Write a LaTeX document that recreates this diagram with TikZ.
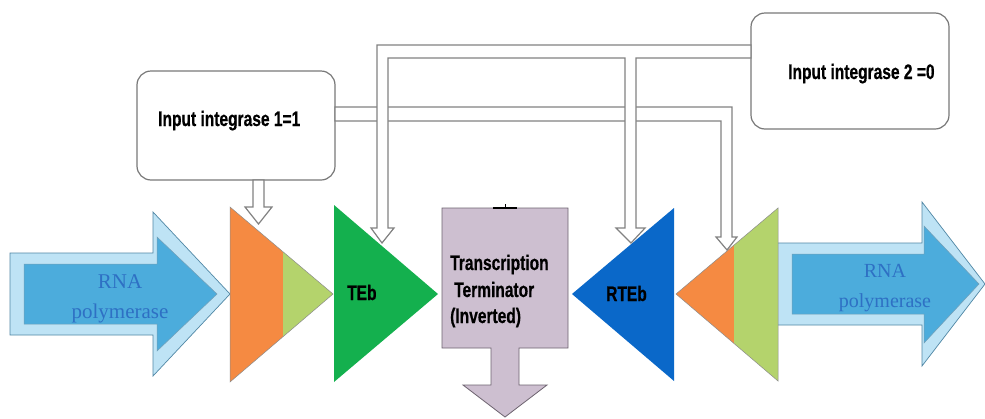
\documentclass[tikz,border=0pt]{standalone}
\usepackage{fontspec}
\setmainfont{Liberation Serif}
\newfontfamily\condfont[FakeStretch=0.74,FakeBold=0.6]{Liberation Sans}
\newfontfamily\rnafont{Liberation Serif}
\definecolor{outerblue}{RGB}{190,227,245}
\definecolor{innerblue}{RGB}{76,172,220}
\definecolor{arrowedge}{RGB}{80,135,165}
\definecolor{rnatext}{RGB}{46,112,196}
\definecolor{myorange}{RGB}{245,138,66}
\definecolor{mylgreen}{RGB}{180,211,108}
\definecolor{tebgreen}{RGB}{20,176,78}
\definecolor{rtebblue}{RGB}{10,104,201}
\definecolor{termfill}{RGB}{205,191,208}
\definecolor{termedge}{RGB}{110,100,112}
\definecolor{pipegray}{RGB}{130,130,130}
\definecolor{boxgray}{RGB}{120,120,120}
\tikzset{
  outerarrow/.style={fill=outerblue, draw=arrowedge, line width=0.7pt, line join=miter},
  innerarrow/.style={fill=innerblue, draw=arrowedge!80, line width=0.5pt},
  triedge/.style={draw=black!45, line width=0.5pt},
  termshape/.style={fill=termfill, draw=termedge, line width=0.8pt},
  inbox/.style={fill=white, draw=boxgray, line width=1.2pt, rounded corners=14pt},
  pipe/.style={fill=white, draw=pipegray, line width=1.2pt, line join=miter},
  lbl/.style={font=\condfont\bfseries\fontsize{21}{25}\selectfont, inner sep=0pt, text=black},
  rnalbl/.style={font=\rnafont\fontsize{21}{25}\selectfont, inner sep=0pt, text=rnatext}
}
\begin{document}
\begin{tikzpicture}[x=1pt,y=-1pt]
\useasboundingbox (0,0) rectangle (985,418);
\fill[white] (0,0) rectangle (985,418);

% ---------- left RNA polymerase arrow
\draw[outerarrow] (10,253) -- (153,253) -- (153,212) -- (230,294) -- (153,376) -- (153,335) -- (10,335) -- cycle;
\draw[innerarrow] (24,264) -- (157,264) -- (157,237) -- (217,294) -- (157,351) -- (157,324) -- (24,324) -- cycle;
\node[rnalbl, anchor=base] (rnaL1) at (120,288) {RNA};
\node[rnalbl, anchor=base] (rnaL2) at (120,318) {polymerase};

% ---------- right RNA polymerase arrow
\draw[outerarrow] (777,243) -- (922,243) -- (922,202) -- (985,284) -- (922,366) -- (922,325) -- (777,325) -- cycle;
\draw[innerarrow] (792,254) -- (924,254) -- (924,226) -- (979,284) -- (924,343) -- (924,314) -- (792,314) -- cycle;
\node[rnalbl, font=\rnafont\fontsize{20}{24}\selectfont, anchor=base] (rnaR1) at (885,277) {RNA};
\node[rnalbl, font=\rnafont\fontsize{20}{24}\selectfont, anchor=base] (rnaR2) at (885,307) {polymerase};

% ---------- left integrase site (orange / green)
\coordinate (a1) at (230,207); \coordinate (a2) at (333,294); \coordinate (a3) at (230,382);
\begin{scope}
  \clip (a1) -- (a2) -- (a3) -- cycle;
  \fill[myorange] (225,200) rectangle (283,390);
  \fill[mylgreen] (283,200) rectangle (340,390);
\end{scope}
\draw[triedge] (a1) -- (a2) -- (a3) -- cycle;

% ---------- TEb
\coordinate (t1) at (334,205); \coordinate (t2) at (438,294); \coordinate (t3) at (334,382);
\fill[tebgreen] (t1) -- (t2) -- (t3) -- cycle;
\node[lbl, anchor=base west] (teb) at (347,300) {TEb};

% ---------- Transcription terminator
\draw[termshape] (442,208) -- (568,208) -- (568,348) -- (519,348) -- (519,385) -- (547,385) -- (505,417)
  -- (463,385) -- (491,385) -- (491,348) -- (442,348) -- cycle;
\draw[black, line width=2pt] (493,208) -- (517,208);
\draw[black, line width=0.6pt] (505,204) -- (505,208);
\node[lbl, anchor=base west] (tt1) at (450,270) {Transcription};
\node[lbl, anchor=base west] (tt2) at (454,297) {Terminator};
\node[lbl, anchor=base west] (tt3) at (450,323) {(Inverted)};

% ---------- RTEb
\coordinate (r1) at (674,208); \coordinate (r2) at (572,294); \coordinate (r3) at (674,381);
\fill[rtebblue] (r1) -- (r2) -- (r3) -- cycle;
\node[lbl, anchor=base west] (rteb) at (606,301) {RTEb};

% ---------- right integrase site (orange / green, reversed)
\coordinate (b1) at (778,208); \coordinate (b2) at (676,294); \coordinate (b3) at (778,381);
\begin{scope}
  \clip (b1) -- (b2) -- (b3) -- cycle;
  \fill[myorange] (670,200) rectangle (734,390);
  \fill[mylgreen] (734,200) rectangle (785,390);
\end{scope}
\draw[triedge] (b1) -- (b2) -- (b3) -- cycle;

% ---------- input boxes
\draw[inbox] (137,71) rectangle (335,180);
\node[lbl, anchor=base west] (in1) at (158,126) {Input integrase 1=1};
\draw[inbox] (751,13) rectangle (949,129);
\node[lbl, anchor=base west] (in2) at (788,79) {Input integrase 2 =0};

% ---------- pipe from input 1 to right integrase site
\draw[pipe] (335,107) -- (732,107) -- (732,237) -- (737,237) -- (727,250) -- (716,237) -- (721,237)
  -- (721,121) -- (335,121) -- cycle;

% ---------- pipe from input 2 to TEb and RTEb
\draw[pipe] (751,45) -- (377,45) -- (377,228) -- (371,228) -- (382,243) -- (394,228) -- (388,228)
  -- (388,58) -- (625,58) -- (625,228) -- (616,228) -- (631,243) -- (645,228) -- (636,228)
  -- (636,58) -- (751,58) -- cycle;

% ---------- arrow from input 1 to left integrase site
\draw[pipe] (253,180) -- (253,207) -- (245,207) -- (258.5,224) -- (272,207) -- (264,207) -- (264,180) -- cycle;

\end{tikzpicture}
\end{document}
